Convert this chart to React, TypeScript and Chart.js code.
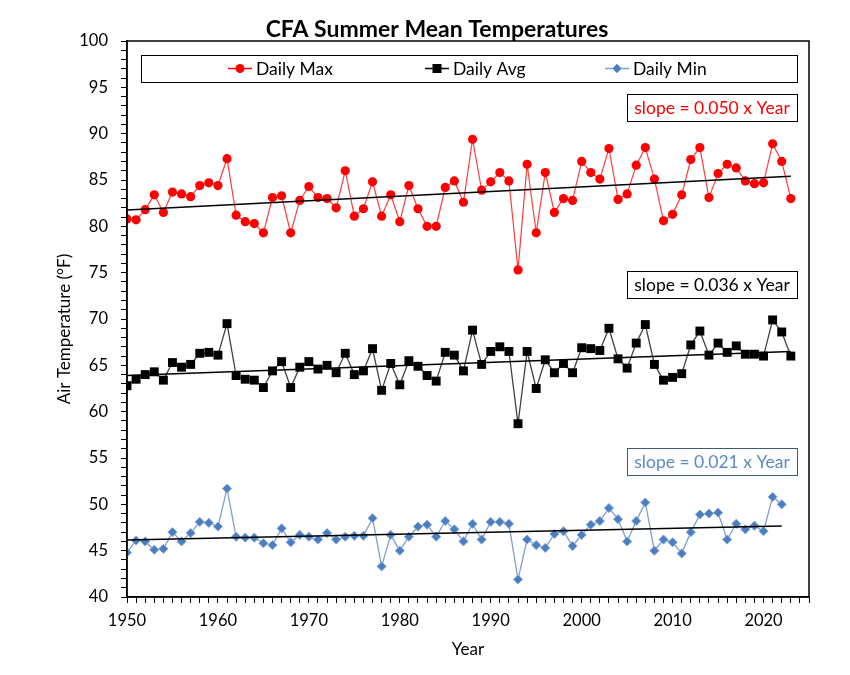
import { useEffect, useRef } from 'react';
import { Chart, registerables } from 'chart.js';

Chart.register(...registerables);

const FONT = 'Lato, "Open Sans", "DejaVu Sans", sans-serif';

const startYear = 1950;
const xTickYears = [1950, 1960, 1970, 1980, 1990, 2000, 2010, 2020];
const yTickValues = [40, 45, 50, 55, 60, 65, 70, 75, 80, 85, 90, 95, 100];

const maxTemps = [
  80.8, 80.7, 81.8, 83.4, 81.5, 83.7, 83.5, 83.2, 84.4, 84.7,
  84.4, 87.3, 81.2, 80.5, 80.3, 79.3, 83.1, 83.3, 79.3, 82.8,
  84.3, 83.1, 83.0, 82.0, 86.0, 81.1, 81.9, 84.8, 81.1, 83.4,
  80.5, 84.4, 81.9, 80.0, 80.0, 84.2, 84.9, 82.6, 89.4, 83.9,
  84.8, 85.8, 84.9, 75.3, 86.7, 79.3, 85.8, 81.5, 83.0, 82.8,
  87.0, 85.8, 85.1, 88.4, 82.9, 83.5, 86.6, 88.5, 85.1, 80.6,
  81.3, 83.4, 87.2, 88.5, 83.1, 85.7, 86.7, 86.3, 84.9, 84.6,
  84.7, 88.9, 87.0, 83.0,
];

const avgTemps = [
  62.8, 63.5, 64.0, 64.3, 63.4, 65.3, 64.8, 65.1, 66.3, 66.4,
  66.1, 69.5, 63.9, 63.5, 63.4, 62.6, 64.4, 65.4, 62.6, 64.8,
  65.4, 64.6, 65.0, 64.2, 66.3, 64.0, 64.4, 66.8, 62.3, 65.2,
  62.9, 65.5, 64.9, 63.9, 63.3, 66.4, 66.1, 64.4, 68.8, 65.1,
  66.5, 67.0, 66.5, 58.7, 66.5, 62.5, 65.6, 64.2, 65.2, 64.2,
  66.9, 66.8, 66.6, 69.0, 65.7, 64.7, 67.4, 69.4, 65.1, 63.4,
  63.7, 64.1, 67.2, 68.7, 66.1, 67.4, 66.4, 67.1, 66.2, 66.2,
  66.0, 69.9, 68.6, 66.0,
];

const minTemps = [
  44.8, 46.1, 46.0, 45.1, 45.2, 47.0, 46.0, 46.9, 48.1, 48.0,
  47.6, 51.7, 46.5, 46.4, 46.4, 45.8, 45.6, 47.4, 45.9, 46.7,
  46.5, 46.2, 46.9, 46.2, 46.5, 46.6, 46.6, 48.5, 43.3, 46.7,
  45.0, 46.5, 47.6, 47.8, 46.5, 48.2, 47.3, 46.0, 47.9, 46.2,
  48.1, 48.1, 47.9, 41.9, 46.2, 45.6, 45.3, 46.8, 47.1, 45.5,
  46.7, 47.8, 48.2, 49.6, 48.4, 46.0, 48.2, 50.2, 45.0, 46.2,
  45.9, 44.7, 47.0, 48.9, 49.0, 49.1, 46.2, 47.9, 47.3, 47.7,
  47.1, 50.8, 50.0,
];

// trend line end points
const trendMaxYears = [1950, 2023];
const trendMaxValues = [81.75, 85.4];
const trendAvgYears = [1950, 2023];
const trendAvgValues = [63.9, 66.5];
const trendMinYears = [1950, 2022];
const trendMinValues = [46.15, 47.66];

const seriesNames = ['Daily Max', 'Daily Avg', 'Daily Min'];
const slopeLabels = ['slope = 0.050 x Year', 'slope = 0.036 x Year', 'slope = 0.021 x Year'];

const RED = '#FF0000';
const BLACK = '#000000';
const BLUE = '#4A7EC0';
const BLUE_TEXT = '#5B8AC8';

const toPoints = (vals: number[]) => vals.map((v, i) => ({ x: startYear + i, y: v }));
const toTrend = (years: number[], vals: number[]) => years.map((yr, i) => ({ x: yr, y: vals[i] }));

function drawMarker(ctx: CanvasRenderingContext2D, kind: string, x: number, y: number) {
  ctx.save();
  if (kind === 'circle') {
    ctx.fillStyle = RED;
    ctx.beginPath();
    ctx.arc(x, y, 4.5, 0, Math.PI * 2);
    ctx.fill();
  } else if (kind === 'rect') {
    ctx.fillStyle = BLACK;
    ctx.fillRect(x - 4.5, y - 4.5, 9, 9);
  } else {
    ctx.fillStyle = BLUE;
    ctx.strokeStyle = '#8AAAD6';
    ctx.lineWidth = 1;
    ctx.beginPath();
    ctx.moveTo(x, y - 4.5);
    ctx.lineTo(x + 4.5, y);
    ctx.lineTo(x, y + 4.5);
    ctx.lineTo(x - 4.5, y);
    ctx.closePath();
    ctx.fill();
    ctx.stroke();
  }
  ctx.restore();
}

const overlayPlugin = {
  id: 'overlay',
  afterDraw(chart: any) {
    const { ctx, chartArea } = chart;
    const { left, right, top, bottom } = chartArea;
    ctx.save();
    // plot frame
    ctx.strokeStyle = '#000';
    ctx.lineWidth = 1.5;
    ctx.strokeRect(left, top, right - left, bottom - top);

    // chart title
    ctx.fillStyle = '#000';
    ctx.font = `bold 23px ${FONT}`;
    ctx.textAlign = 'center';
    ctx.textBaseline = 'middle';
    ctx.fillText('CFA Summer Mean Temperatures', 437, 30);

    // y axis title
    ctx.save();
    ctx.translate(65, 329);
    ctx.rotate(-Math.PI / 2);
    ctx.font = `17px ${FONT}`;
    ctx.fillStyle = '#000';
    ctx.fillText('Air Temperature (°F)', 0, 0);
    ctx.restore();

    // legend box
    const lx0 = left + 14;
    const lx1 = right - 12;
    const ly0 = top + 14;
    const ly1 = top + 41;
    ctx.fillStyle = '#fff';
    ctx.fillRect(lx0, ly0, lx1 - lx0, ly1 - ly0);
    ctx.strokeStyle = '#000';
    ctx.lineWidth = 1;
    ctx.strokeRect(lx0 + 0.5, ly0 + 0.5, lx1 - lx0, ly1 - ly0);
    const ly = (ly0 + ly1) / 2;
    const items = [
      { x: 240, color: RED, kind: 'circle' },
      { x: 437, color: BLACK, kind: 'rect' },
      { x: 617, color: '#7F9FCC', kind: 'diamond' },
    ];
    ctx.font = `17.5px ${FONT}`;
    ctx.textAlign = 'left';
    items.forEach((it, i) => {
      ctx.strokeStyle = it.color;
      ctx.lineWidth = 1.5;
      ctx.beginPath();
      ctx.moveTo(it.x - 12, ly);
      ctx.lineTo(it.x + 12, ly);
      ctx.stroke();
      drawMarker(ctx, it.kind, it.x, ly);
      ctx.fillStyle = '#000';
      ctx.fillText(seriesNames[i], it.x + 16, ly + 1);
    });

    // slope boxes
    const boxTops = [top + 53, top + 230, top + 407];
    const colors = [RED, '#000', BLUE_TEXT];
    const borders = ['#000', '#000', '#3C5A80'];
    boxTops.forEach((bt, i) => {
      const bx1 = right - 12;
      const bx0 = bx1 - 170;
      ctx.fillStyle = '#fff';
      ctx.fillRect(bx0, bt, bx1 - bx0, 27);
      ctx.strokeStyle = borders[i];
      ctx.lineWidth = 1;
      ctx.strokeRect(bx0 + 0.5, bt + 0.5, bx1 - bx0, 27);
      ctx.fillStyle = colors[i];
      ctx.textAlign = 'center';
      ctx.fillText(slopeLabels[i], (bx0 + bx1) / 2, bt + 14.5);
    });
    ctx.restore();
  },
};

export default function App() {
  const ref = useRef<HTMLCanvasElement | null>(null);
  useEffect(() => {
    document.body.style.margin = '0';
    if (!ref.current) return;
    const chart = new Chart(ref.current, {
      type: 'line',
      data: {
        datasets: [
          { label: 'trendMax', data: toTrend(trendMaxYears, trendMaxValues), borderColor: '#000', borderWidth: 1.5, pointRadius: 0, order: 0 },
          { label: 'trendAvg', data: toTrend(trendAvgYears, trendAvgValues), borderColor: '#000', borderWidth: 1.5, pointRadius: 0, order: 0 },
          { label: 'trendMin', data: toTrend(trendMinYears, trendMinValues), borderColor: '#000', borderWidth: 1.5, pointRadius: 0, order: 0 },
          {
            label: seriesNames[0], data: toPoints(maxTemps), borderColor: '#FF3C3C', borderWidth: 1.2,
            pointStyle: 'circle', pointRadius: 4.6, pointBackgroundColor: RED, pointBorderColor: RED, pointBorderWidth: 0, order: 1,
          },
          {
            label: seriesNames[1], data: toPoints(avgTemps), borderColor: '#404040', borderWidth: 1.3,
            pointStyle: 'rect', pointRadius: 6.3, pointBackgroundColor: BLACK, pointBorderColor: BLACK, pointBorderWidth: 0, order: 1,
          },
          {
            label: seriesNames[2], data: toPoints(minTemps), borderColor: '#7F9FCC', borderWidth: 1.3,
            pointStyle: 'rectRot', pointRadius: 4.6, pointBackgroundColor: BLUE, pointBorderColor: '#8AAAD6', pointBorderWidth: 1, order: 1,
          },
        ],
      },
      options: {
        responsive: false,
        animation: false,
        layout: { padding: { left: 0, right: 41, top: 41, bottom: 0 } },
        plugins: { legend: { display: false }, tooltip: { enabled: false }, title: { display: false } },
        scales: {
          x: {
            type: 'linear',
            min: 1950,
            max: 2025,
            afterFit: (s: any) => { s.height = 78; },
            afterBuildTicks: (s: any) => {
              const t = [];
              for (let yr = 1950; yr <= 2025; yr++) t.push({ value: yr });
              s.ticks = t;
            },
            ticks: {
              autoSkip: false,
              maxRotation: 0,
              padding: 8,
              color: '#000',
              font: { family: FONT, size: 16.5 },
              callback: (v: any) => (xTickYears.includes(Number(v)) ? String(v) : ''),
            },
            grid: { drawOnChartArea: false, tickLength: 6, color: '#000', lineWidth: 1 },
            border: { display: true, color: '#000', width: 1.5 },
            title: { display: true, text: 'Year', color: '#000', font: { family: FONT, size: 17 }, padding: { top: 0, bottom: 15 } },
          },
          y: {
            type: 'linear',
            min: 40,
            max: 100,
            afterFit: (s: any) => { s.width = 127; },
            afterBuildTicks: (s: any) => {
              const t = [];
              for (let v = 40; v <= 100; v++) t.push({ value: v });
              s.ticks = t;
            },
            ticks: {
              autoSkip: false,
              padding: 13,
              color: '#000',
              font: { family: FONT, size: 16.5 },
              callback: (v: any) => (yTickValues.includes(Number(v)) ? String(v) : ''),
            },
            grid: { drawOnChartArea: false, tickLength: 6, color: '#000', lineWidth: 1 },
            border: { display: true, color: '#000', width: 1.5 },
            title: { display: false },
          },
        },
      },
      plugins: [overlayPlugin],
    });
    return () => chart.destroy();
  }, []);
  return (
    <div style={{ width: 850, height: 675, background: '#fff' }}>
      <canvas ref={ref} width={850} height={675} style={{ width: 850, height: 675, display: 'block' }} />
    </div>
  );
}
